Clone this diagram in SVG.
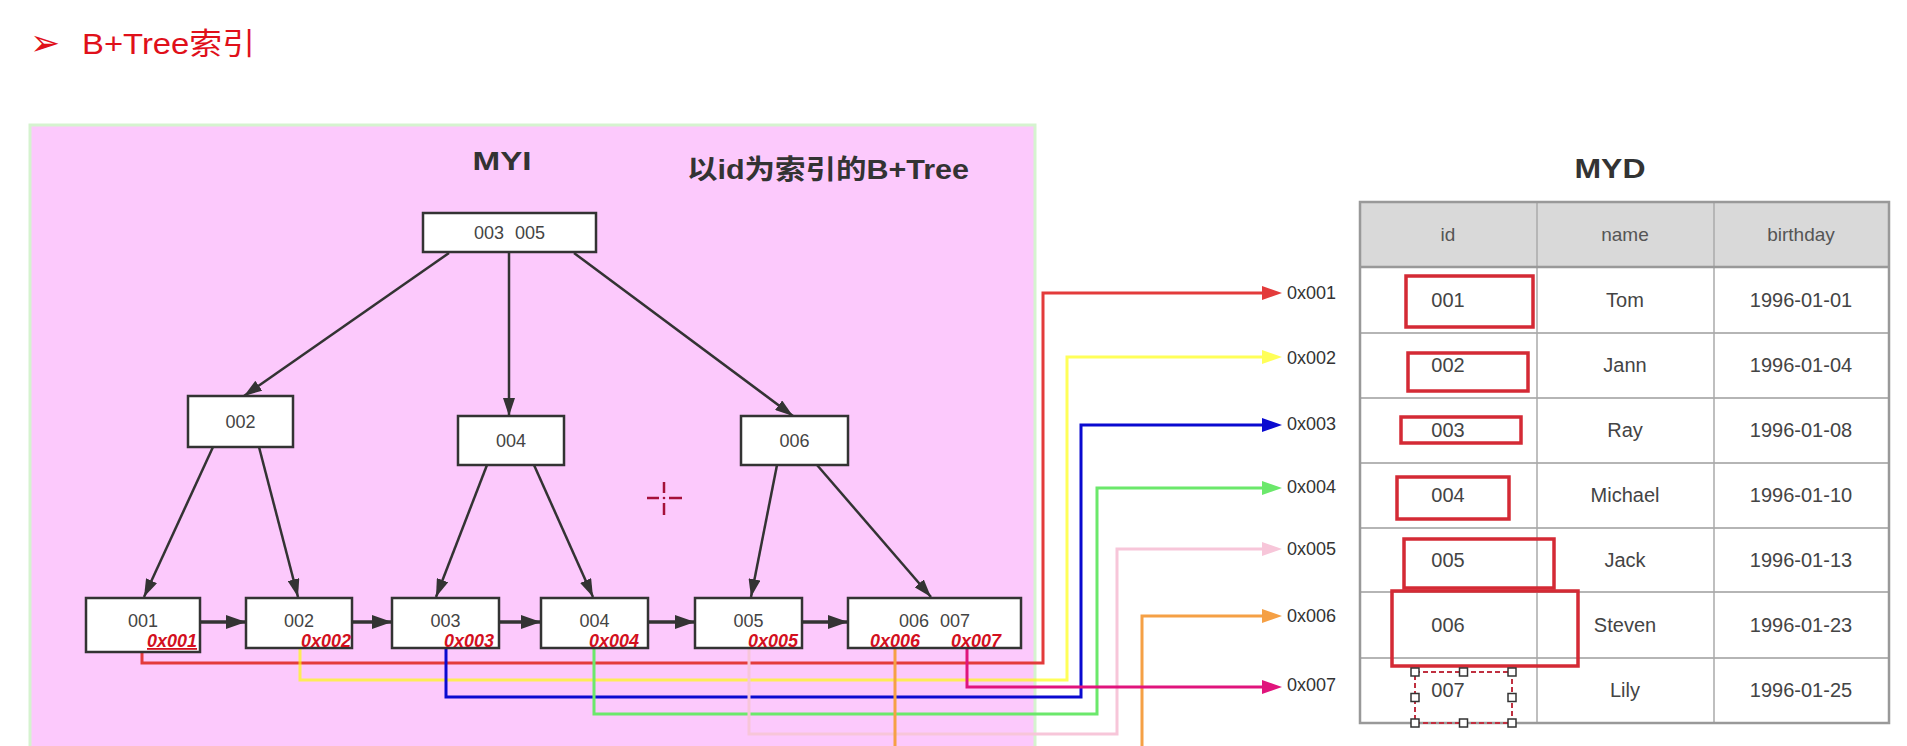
<svg xmlns="http://www.w3.org/2000/svg" width="1907" height="746" viewBox="0 0 1907 746">
<style>
.node rect{fill:#fff;stroke:#333;stroke-width:2.5}
.nt{font-family:"Liberation Sans","DejaVu Sans",sans-serif;font-size:18px;fill:#444;text-anchor:middle}
.addr{font-family:"Liberation Sans",sans-serif;font-size:18px;font-weight:bold;font-style:italic;fill:#d3101e}
.edge{stroke:#333;stroke-width:2.5;fill:none;marker-end:url(#ah)}
.link{stroke:#333;stroke-width:3.5;fill:none;marker-end:url(#ahL)}
.conn{fill:none;stroke-width:3}
.lbl{font-family:"Liberation Sans",sans-serif;font-size:18px;fill:#333}
.tt{font-family:"Liberation Sans","DejaVu Sans",sans-serif;font-size:20px;fill:#444;text-anchor:middle}
.th{font-family:"Liberation Sans","DejaVu Sans",sans-serif;font-size:19px;fill:#555;text-anchor:middle}
.rb{fill:none;stroke:#d42a35;stroke-width:3.5}
.grid{stroke:#b5b5b5;stroke-width:2}
.hd{fill:#fff;stroke:#333;stroke-width:1.5}
.head{font-family:"Liberation Sans","Noto Sans CJK SC",sans-serif;font-weight:bold;fill:#333}
</style>
<defs>
<marker id="ah" viewBox="0 0 18 12" refX="18" refY="6" markerWidth="18" markerHeight="12" markerUnits="userSpaceOnUse" orient="auto"><path d="M0,0 L18,6 L0,12 z" fill="#333"/></marker>
<marker id="ahL" viewBox="0 0 20 14" refX="20" refY="7" markerWidth="20" markerHeight="14" markerUnits="userSpaceOnUse" orient="auto"><path d="M0,0 L20,7 L0,14 z" fill="#333"/></marker>
<marker id="mr" viewBox="0 0 20 14" refX="5" refY="7" markerWidth="20" markerHeight="14" markerUnits="userSpaceOnUse" orient="auto"><path d="M0,0 L20,7 L0,14 z" fill="#e33b3b"/></marker>
<marker id="my" viewBox="0 0 20 14" refX="5" refY="7" markerWidth="20" markerHeight="14" markerUnits="userSpaceOnUse" orient="auto"><path d="M0,0 L20,7 L0,14 z" fill="#ffff00"/></marker>
<marker id="mb" viewBox="0 0 20 14" refX="5" refY="7" markerWidth="20" markerHeight="14" markerUnits="userSpaceOnUse" orient="auto"><path d="M0,0 L20,7 L0,14 z" fill="#0a0ad0"/></marker>
<marker id="mg" viewBox="0 0 20 14" refX="5" refY="7" markerWidth="20" markerHeight="14" markerUnits="userSpaceOnUse" orient="auto"><path d="M0,0 L20,7 L0,14 z" fill="#6be86b"/></marker>
<marker id="mp" viewBox="0 0 20 14" refX="5" refY="7" markerWidth="20" markerHeight="14" markerUnits="userSpaceOnUse" orient="auto"><path d="M0,0 L20,7 L0,14 z" fill="#f7c6d9"/></marker>
<marker id="mo" viewBox="0 0 20 14" refX="5" refY="7" markerWidth="20" markerHeight="14" markerUnits="userSpaceOnUse" orient="auto"><path d="M0,0 L20,7 L0,14 z" fill="#f5a045"/></marker>
<marker id="mm" viewBox="0 0 20 14" refX="5" refY="7" markerWidth="20" markerHeight="14" markerUnits="userSpaceOnUse" orient="auto"><path d="M0,0 L20,7 L0,14 z" fill="#e0147c"/></marker>
</defs>
<rect x="0" y="0" width="1907" height="746" fill="#fff"/>

<g id="title">
<text x="30" y="55" font-family="DejaVu Sans,sans-serif" font-size="36" fill="#e0101a">➢</text>
<text x="82" y="54" font-family="Liberation Sans,Noto Sans CJK SC,sans-serif" font-size="30" fill="#e0101a" textLength="173" lengthAdjust="spacingAndGlyphs">B+Tree索引</text>
</g>

<g id="myi-panel">
<rect x="30" y="125" width="1005" height="640" fill="#fcc9fc" stroke="#d5f3cf" stroke-width="3"/>
<text class="head" x="502" y="170" font-size="26" text-anchor="middle" textLength="59" lengthAdjust="spacingAndGlyphs">MYI</text>
<text class="head" x="687" y="179" font-size="27" textLength="282" lengthAdjust="spacingAndGlyphs">以id为索引的B+Tree</text>
</g>

<g id="cursor" stroke="#a5103a" stroke-width="2.5">
<line x1="664" y1="482" x2="664" y2="493"/><line x1="664" y1="503" x2="664" y2="515"/>
<line x1="647" y1="498" x2="659" y2="498"/><line x1="669" y1="498" x2="682" y2="498"/>
<circle cx="664" cy="498" r="1.3" fill="#a5103a" stroke="none"/>
</g>

<g id="connectors">
<path class="edge" d="M449,253 L244,396"/>
<path class="edge" d="M509,253 L509,416"/>
<path class="edge" d="M574,253 L793,416"/>
<path class="edge" d="M213,447 L144,597"/>
<path class="edge" d="M259,447 L298,597"/>
<path class="edge" d="M487,465 L436,597"/>
<path class="edge" d="M534,465 L593,597"/>
<path class="edge" d="M777,465 L751,597"/>
<path class="edge" d="M817,465 L931,597"/>
<path class="link" d="M200,622 H246"/>
<path class="link" d="M352,622 H392"/>
<path class="link" d="M499,622 H541"/>
<path class="link" d="M648,622 H695"/>
<path class="link" d="M802,622 H848"/>
<path class="conn" stroke="#e33b3b" marker-end="url(#mr)" d="M142,652 V663 H1043 V293 H1267"/>
<path class="conn" stroke="#ffff00" opacity="0.65" marker-end="url(#my)" d="M300,648 V680 H1067 V357 H1267"/>
<path class="conn" stroke="#0a0ad0" marker-end="url(#mb)" d="M446,648 V697 H1081 V425 H1267"/>
<path class="conn" stroke="#6be86b" marker-end="url(#mg)" d="M594,648 V714 H1097 V488 H1267"/>
<path class="conn" stroke="#f7c6d9" marker-end="url(#mp)" d="M749,648 V734 H1117 V549 H1267"/>
<path class="conn" stroke="#f5a045" marker-end="url(#mo)" d="M895,648 V770 H1142 V616 H1267"/>
<path class="conn" stroke="#e0147c" marker-end="url(#mm)" d="M967,648 V687 H1267"/>
</g>

<g id="n-root" class="node"><rect x="423" y="213" width="173" height="39"/><text class="nt" x="509.5" y="239" word-spacing="6">003 005</text></g>
<g id="n-002" class="node"><rect x="188" y="396" width="105" height="51"/><text class="nt" x="240.5" y="428">002</text></g>
<g id="n-004" class="node"><rect x="458" y="416" width="106" height="49"/><text class="nt" x="511" y="447">004</text></g>
<g id="n-006" class="node"><rect x="741" y="416" width="107" height="49"/><text class="nt" x="794.5" y="447">006</text></g>

<g id="leaf-001" class="node"><rect x="86" y="598" width="114" height="54"/><text class="nt" x="143" y="627">001</text><text class="addr" x="147" y="647" text-decoration="underline">0x001</text></g>
<g id="leaf-002" class="node"><rect x="246" y="598" width="106" height="50"/><text class="nt" x="299" y="627">002</text><text class="addr" x="301" y="647">0x002</text></g>
<g id="leaf-003" class="node"><rect x="392" y="598" width="107" height="50"/><text class="nt" x="445.5" y="627">003</text><text class="addr" x="444" y="647">0x003</text></g>
<g id="leaf-004" class="node"><rect x="541" y="598" width="107" height="50"/><text class="nt" x="594.5" y="627">004</text><text class="addr" x="589" y="647">0x004</text></g>
<g id="leaf-005" class="node"><rect x="695" y="598" width="107" height="50"/><text class="nt" x="748.5" y="627">005</text><text class="addr" x="748" y="647">0x005</text></g>
<g id="leaf-006-007" class="node"><rect x="848" y="598" width="173" height="50"/><text class="nt" x="934.5" y="627" word-spacing="6">006 007</text><text class="addr" x="870" y="647">0x006</text><text class="addr" x="951" y="647">0x007</text></g>

<g id="addr-labels">
<text class="lbl" x="1287" y="299">0x001</text>
<text class="lbl" x="1287" y="364">0x002</text>
<text class="lbl" x="1287" y="430">0x003</text>
<text class="lbl" x="1287" y="493">0x004</text>
<text class="lbl" x="1287" y="555">0x005</text>
<text class="lbl" x="1287" y="622">0x006</text>
<text class="lbl" x="1287" y="691">0x007</text>
</g>

<g id="myd-table">
<text class="head" x="1610" y="178" font-size="27" text-anchor="middle" textLength="71" lengthAdjust="spacingAndGlyphs">MYD</text>
<rect x="1360" y="202" width="529" height="65" fill="#d9d9d9"/>
<line class="grid" x1="1360" y1="333" x2="1889" y2="333"/>
<line class="grid" x1="1360" y1="398" x2="1889" y2="398"/>
<line class="grid" x1="1360" y1="463" x2="1889" y2="463"/>
<line class="grid" x1="1360" y1="528" x2="1889" y2="528"/>
<line class="grid" x1="1360" y1="592" x2="1889" y2="592"/>
<line class="grid" x1="1360" y1="658" x2="1889" y2="658"/>
<line x1="1537" y1="202" x2="1537" y2="723" stroke="#aaa" stroke-width="1.5"/>
<line x1="1714" y1="202" x2="1714" y2="723" stroke="#aaa" stroke-width="1.5"/>
<line x1="1360" y1="267" x2="1889" y2="267" stroke="#999" stroke-width="2.5"/>
<rect x="1360" y="202" width="529" height="521" fill="none" stroke="#999" stroke-width="2.5"/>
<text class="th" x="1448" y="241">id</text>
<text class="th" x="1625" y="241">name</text>
<text class="th" x="1801" y="241">birthday</text>
<text class="tt" x="1448" y="307">001</text><text class="tt" x="1625" y="307">Tom</text><text class="tt" x="1801" y="307">1996-01-01</text>
<text class="tt" x="1448" y="372">002</text><text class="tt" x="1625" y="372">Jann</text><text class="tt" x="1801" y="372">1996-01-04</text>
<text class="tt" x="1448" y="437">003</text><text class="tt" x="1625" y="437">Ray</text><text class="tt" x="1801" y="437">1996-01-08</text>
<text class="tt" x="1448" y="502">004</text><text class="tt" x="1625" y="502">Michael</text><text class="tt" x="1801" y="502">1996-01-10</text>
<text class="tt" x="1448" y="567">005</text><text class="tt" x="1625" y="567">Jack</text><text class="tt" x="1801" y="567">1996-01-13</text>
<text class="tt" x="1448" y="632">006</text><text class="tt" x="1625" y="632">Steven</text><text class="tt" x="1801" y="632">1996-01-23</text>
<text class="tt" x="1448" y="697">007</text><text class="tt" x="1625" y="697">Lily</text><text class="tt" x="1801" y="697">1996-01-25</text>
<rect class="rb" x="1406" y="276" width="127" height="51"/>
<rect class="rb" x="1408" y="353" width="120" height="38"/>
<rect class="rb" x="1401" y="417" width="120" height="26"/>
<rect class="rb" x="1397" y="477" width="112" height="42"/>
<rect class="rb" x="1404" y="539" width="150" height="49"/>
<rect class="rb" x="1392" y="591" width="186" height="75"/>
<g id="selection">
<rect x="1415" y="672" width="97" height="51" fill="none" stroke="#c03040" stroke-width="2" stroke-dasharray="5,3"/>
<rect class="hd" x="1411" y="668" width="8" height="8"/><rect class="hd" x="1459.5" y="668" width="8" height="8"/><rect class="hd" x="1508" y="668" width="8" height="8"/>
<rect class="hd" x="1411" y="693.5" width="8" height="8"/><rect class="hd" x="1508" y="693.5" width="8" height="8"/>
<rect class="hd" x="1411" y="719" width="8" height="8"/><rect class="hd" x="1459.5" y="719" width="8" height="8"/><rect class="hd" x="1508" y="719" width="8" height="8"/>
</g>
</g>
</svg>
